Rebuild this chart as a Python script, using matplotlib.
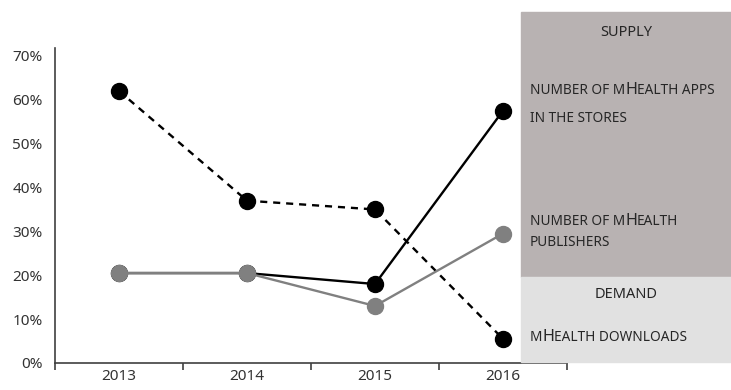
import matplotlib.pyplot as plt
from matplotlib.offsetbox import TextArea, HPacker, AnnotationBbox
from matplotlib.patches import Rectangle
from matplotlib.ticker import FixedLocator

plt.rcParams['font.family'] = ['Noto Sans', 'DejaVu Sans']

years = ['2013', '2014', '2015', '2016']
downloads = [62, 37, 35, 5.5]
apps = [20.5, 20.5, 18, 57.5]
publishers = [20.5, 20.5, 13, 29.5]
yticks = [0, 10, 20, 30, 40, 50, 60, 70]

W, H = 731, 390
fig = plt.figure(figsize=(W / 100, H / 100), dpi=100)
ax = fig.add_axes([55 / W, 1 - 363 / H, (567 - 55) / W, (363 - 48) / H])

x = range(len(years))
ax.plot(x, downloads, color='black', lw=1.7, ls=(0, (3, 2.5)),
        marker='o', ms=11.5, zorder=3)
ax.plot(x, apps, color='black', lw=1.7, marker='o', ms=11.5, zorder=4)
ax.plot(x, publishers, color='#808080', lw=1.7, marker='o', ms=11.5, zorder=5)

ax.set_xlim(-0.5, 3.5)
ax.set_ylim(0, 71.8)
ax.set_yticks(yticks)
ax.set_yticklabels([f'{v}%' for v in yticks])
ax.set_xticks(list(x))
ax.set_xticklabels(years)
ax.xaxis.set_minor_locator(FixedLocator([-0.5, 0.5, 1.5, 2.5, 3.5]))
ax.tick_params(axis='x', which='major', length=0, pad=4, labelsize=11, colors='#333333')
ax.tick_params(axis='x', which='minor', length=5, width=1.2, color='#404040')
ax.tick_params(axis='y', length=0, pad=9, labelsize=11, colors='#333333')
for s in ['top', 'right']:
    ax.spines[s].set_visible(False)
for s in ['left', 'bottom']:
    ax.spines[s].set_color('#404040')
    ax.spines[s].set_linewidth(1.2)

# side panel: supply / demand boxes
fig.patches.append(Rectangle((521 / W, 1 - 277 / H), (W - 521) / W, (277 - 12) / H,
                             transform=fig.transFigure, color='#b8b2b2', zorder=0))
fig.patches.append(Rectangle((521 / W, 1 - 362 / H), (W - 521) / W, (362 - 277) / H,
                             transform=fig.transFigure, color='#e1e1e1', zorder=0))

txt = '#262626'
fig.text(626 / W, 1 - 32 / H, 'SUPPLY', ha='center', va='center', fontsize=10.5, color=txt)
fig.text(626 / W, 1 - 295 / H, 'DEMAND', ha='center', va='center', fontsize=10.5, color=txt)


def small_caps(runs, px, py):
    # runs: list of (text, big) pieces packed on one baseline
    kids = [TextArea(t, textprops=dict(fontsize=11.6 if big else 9.8, color=txt))
            for t, big in runs]
    box = HPacker(children=kids, align='baseline', pad=0, sep=0)
    ab = AnnotationBbox(box, (px / W, 1 - py / H), xycoords='figure fraction',
                        box_alignment=(0, 0.5), frameon=False, pad=0)
    fig.add_artist(ab)


small_caps([('NUMBER OF M', False), ('H', True), ('EALTH APPS', False)], 530, 90)
small_caps([('IN THE STORES', False)], 530, 119)
small_caps([('NUMBER OF M', False), ('H', True), ('EALTH', False)], 530, 221)
small_caps([('PUBLISHERS', False)], 530, 242)
small_caps([('M', False), ('H', True), ('EALTH DOWNLOADS', False)], 530, 337)

fig.savefig('out.png', dpi=100)
